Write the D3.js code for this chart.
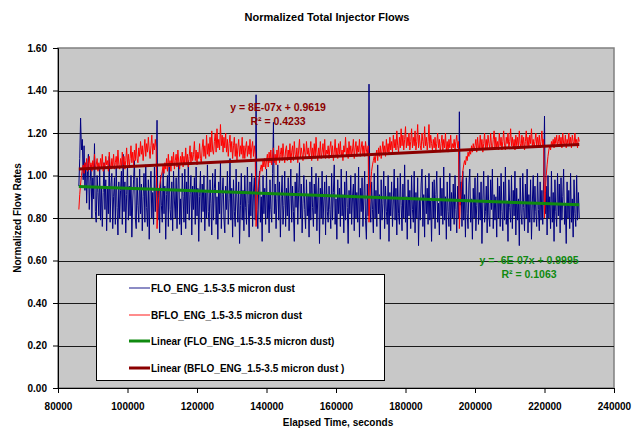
<!DOCTYPE html>
<html><head><meta charset="utf-8">
<script src="https://cdn.jsdelivr.net/npm/d3@7"></script>
<style>body{margin:0;background:#fff}svg{display:block;font-family:"Liberation Sans",Arial,sans-serif}</style>
</head><body><svg id="c" width="633" height="431"></svg>
<script>
const title = "Normalized Total Injector Flows";
const xTitle = "Elapsed Time, seconds";
const yTitle = "Normalized Flow Rates";
const xTicks = [80000,100000,120000,140000,160000,180000,200000,220000,240000];
const yTicks = [0,0.2,0.4,0.6,0.8,1.0,1.2,1.4,1.6];
const seriesNames = ["FLO_ENG_1.5-3.5 micron dust","BFLO_ENG_1.5-3.5 micron dust","Linear (FLO_ENG_1.5-3.5 micron dust)","Linear (BFLO_ENG_1.5-3.5 micron dust )"];
const tStart = 86000, tStep = 250;
const flo = [
0.95,1.08,1.27,1.12,1.17,0.98,1.14,0.93,1.06,0.87,1.02,1.10,0.84,0.97,1.05,0.80,0.99,0.89,1.15,0.83,0.78,1.00,0.92,0.81,
1.03,0.79,0.95,0.76,0.92,1.06,0.84,0.98,0.74,0.94,0.82,1.09,0.78,0.96,1.01,0.75,0.90,0.99,0.77,1.04,0.85,0.72,0.97,0.80,
0.93,1.02,0.77,1.10,0.83,0.97,0.73,0.91,1.04,0.79,0.95,0.81,1.00,0.71,0.88,0.98,1.07,0.80,0.75,0.99,0.86,0.78,1.03,0.82,
0.96,0.74,0.90,1.01,0.78,1.05,0.85,0.76,0.98,0.70,0.93,1.02,0.80,0.92,0.77,1.04,0.83,0.96,1.26,0.79,0.94,0.73,1.00,0.86,
0.78,1.03,0.82,0.95,0.70,0.91,1.00,0.76,1.06,0.84,0.79,0.97,0.74,1.02,0.88,0.80,0.99,0.75,0.93,1.05,0.77,0.89,0.72,1.01,
0.90,0.78,1.03,0.75,0.97,0.82,1.07,0.79,0.91,1.00,0.72,0.95,0.84,0.99,0.77,1.04,0.81,0.94,0.69,0.90,1.02,0.78,0.96,0.83,
1.00,0.74,0.92,0.80,1.05,0.83,0.76,0.98,0.87,0.72,1.01,0.79,0.94,1.03,0.77,0.90,0.70,0.97,0.82,1.06,0.75,0.91,0.99,0.80,
0.73,0.95,0.84,1.02,0.77,0.89,1.08,0.79,0.94,0.71,0.98,0.83,0.76,1.03,0.88,0.78,0.97,0.68,0.86,1.01,0.79,0.93,0.74,1.00,
0.85,0.77,1.04,0.87,0.71,0.97,0.81,1.01,0.76,0.92,0.99,0.79,1.38,0.84,0.75,0.95,1.02,0.78,0.90,0.69,1.00,0.82,0.94,0.77,
1.03,0.80,0.91,0.73,0.98,0.84,0.78,1.01,1.25,0.82,0.96,0.75,0.89,1.05,0.79,0.97,0.71,0.90,1.00,0.77,0.86,1.02,0.76,0.94,
0.81,0.99,0.74,0.89,1.03,0.78,0.95,0.83,0.69,0.97,0.85,1.01,0.77,0.92,1.06,0.80,0.96,0.73,0.87,1.00,0.84,0.75,0.98,0.81,
0.91,0.71,0.97,0.79,1.04,0.85,0.76,0.96,0.82,1.01,0.74,0.90,0.99,0.68,0.94,0.80,1.02,0.77,0.88,0.97,0.72,1.00,0.83,0.78,
0.95,0.84,0.75,1.01,0.79,0.92,1.05,0.77,0.89,0.70,0.98,0.82,0.94,0.76,1.03,0.81,0.91,0.73,0.97,0.79,1.02,0.85,0.68,0.93,
0.82,1.00,0.77,0.90,0.96,0.74,1.01,0.80,0.92,0.78,1.04,0.71,0.94,0.83,0.99,0.76,0.89,1.02,0.79,0.70,0.96,0.81,1.43,0.88,
0.78,0.97,0.84,0.73,1.01,0.80,0.93,0.76,1.05,0.82,0.91,0.70,0.98,0.79,0.87,1.02,0.75,0.95,0.83,0.77,1.00,0.69,0.92,0.81,
0.97,0.76,0.88,1.03,0.79,0.94,0.72,0.99,0.82,0.77,1.01,0.86,0.74,0.96,0.80,1.05,0.78,0.90,0.70,0.98,0.81,0.93,0.75,1.00,
0.84,0.78,1.02,0.73,0.92,0.80,0.99,0.67,0.89,0.79,0.96,1.03,0.76,0.91,0.71,1.00,0.82,0.94,0.77,1.01,0.79,0.88,0.69,0.97,
0.80,0.98,0.75,0.91,1.02,0.78,0.87,0.72,0.99,0.81,0.94,0.77,1.04,0.79,0.90,0.70,0.97,0.83,0.76,1.01,0.74,0.92,0.80,0.96,
0.77,1.00,0.84,0.73,0.95,0.80,1.30,0.86,0.97,0.76,1.02,0.79,0.91,0.71,0.99,0.82,0.75,0.96,1.03,0.78,0.89,0.70,0.94,0.80,
0.99,0.74,0.86,1.01,0.77,0.92,0.79,0.97,0.68,0.88,1.02,0.78,0.83,0.95,0.73,1.00,0.81,0.76,0.98,0.84,1.03,0.75,0.91,0.79,
0.90,0.71,0.99,0.80,0.95,0.76,1.01,0.83,0.74,0.97,0.79,1.04,0.77,0.88,0.69,0.98,0.85,0.78,1.00,0.75,0.93,0.81,1.02,0.72,
0.94,0.79,0.89,0.67,0.99,0.82,0.77,1.01,0.85,0.74,0.96,0.80,1.03,0.73,0.91,0.78,0.98,0.70,0.87,1.00,0.78,0.95,0.83,0.76,
1.01,0.84,0.74,0.97,0.79,0.93,0.77,0.99,1.28,0.82,0.95,0.72,1.00,0.80,0.90,0.75,1.02,0.78,0.92,0.69,0.98,0.83,0.76,1.01,
0.81,0.96,0.73,0.99,0.79,0.90,1.03,0.77,0.86,0.68,0.97,0.80,0.93,0.75,1.01,0.78,0.89,0.71,0.98,0.82,0.76,1.00,0.79,0.92,
0.80];
const bflo = [
0.84,0.91,0.96,1.00,1.03,1.05,1.01,1.06,1.03,1.08,1.02,1.05,1.09,1.03,1.06,1.02,1.07,1.04,1.10,1.03,1.05,1.08,1.02,1.06,
1.03,1.08,1.04,1.10,1.02,1.06,1.03,1.09,1.05,1.07,1.02,1.11,1.05,1.03,1.08,1.04,1.10,1.03,1.06,1.09,1.04,1.12,1.05,1.03,
1.08,1.04,1.11,1.05,1.09,1.03,1.07,1.13,1.05,1.10,1.04,1.08,1.14,1.06,1.11,1.05,1.12,1.07,1.15,1.08,1.06,1.13,1.09,1.16,
1.10,1.14,1.07,1.12,1.17,1.09,1.15,1.11,1.18,1.12,1.08,1.14,1.19,1.10,1.15,1.12,1.17,1.13,0.75,0.84,0.90,0.95,0.98,1.00,
1.02,1.05,1.01,1.06,1.03,1.08,1.02,1.10,1.04,1.07,1.02,1.09,1.05,1.11,1.03,1.07,1.10,1.04,1.12,1.06,1.03,1.09,1.05,1.11,
1.04,1.09,1.05,1.13,1.06,1.10,1.04,1.09,1.14,1.05,1.11,1.07,1.10,1.16,1.07,1.12,1.05,1.11,1.08,1.15,1.08,1.06,1.13,1.17,
1.09,1.14,1.08,1.19,1.10,1.15,1.09,1.18,1.11,1.21,1.12,1.10,1.16,1.20,1.11,1.22,1.13,1.17,1.12,1.24,1.14,1.19,1.11,1.18,
1.13,1.20,1.11,1.17,1.09,1.15,1.19,1.11,1.16,1.08,1.14,1.18,1.09,1.15,1.07,1.13,1.17,1.09,1.14,1.10,1.18,1.08,1.14,1.08,
1.13,1.16,1.09,1.14,1.10,1.17,1.08,1.13,1.16,1.09,1.14,1.10,0.76,0.86,0.93,0.97,1.00,1.03,1.05,1.02,1.07,1.04,1.08,1.03,
1.07,1.10,1.04,1.11,1.06,1.12,1.05,1.09,1.13,1.06,1.10,1.05,1.12,1.08,1.14,1.06,1.10,1.13,1.07,1.15,1.09,1.06,1.12,1.14,
1.07,1.12,1.08,1.15,1.06,1.11,1.14,1.07,1.16,1.10,1.08,1.13,1.06,1.12,1.17,1.08,1.13,1.10,1.07,1.15,1.11,1.08,1.16,1.10,
1.13,1.08,1.11,1.16,1.07,1.13,1.09,1.15,1.08,1.18,1.11,1.07,1.13,1.09,1.16,1.08,1.11,1.15,1.09,1.17,1.08,1.12,1.10,1.14,
1.08,1.13,1.16,1.09,1.14,1.07,1.11,1.17,1.09,1.13,1.08,1.15,1.10,1.16,1.09,1.12,1.07,1.14,1.11,1.18,1.09,1.13,1.08,1.16,
1.10,1.14,1.09,1.12,1.17,1.08,1.13,1.16,1.09,1.14,1.11,1.17,1.09,1.13,1.16,1.10,1.14,1.09,1.16,1.12,1.10,1.14,0.78,0.90,
0.97,1.02,1.05,1.07,1.09,1.06,1.10,1.12,1.07,1.13,1.09,1.14,1.08,1.12,1.16,1.10,1.14,1.09,1.17,1.11,1.15,1.10,1.18,1.12,
1.16,1.11,1.19,1.13,1.17,1.12,1.21,1.14,1.11,1.18,1.13,1.22,1.14,1.19,1.12,1.17,1.23,1.13,1.18,1.14,1.20,1.12,1.16,1.22,
1.13,1.18,1.14,1.21,1.12,1.16,1.24,1.13,1.19,1.14,1.12,1.20,1.16,1.13,1.23,1.14,1.18,1.12,1.16,1.24,1.13,1.19,1.15,1.12,
1.17,1.13,1.18,1.12,1.15,1.20,1.13,1.17,1.11,1.15,1.19,1.12,1.17,1.13,1.20,1.12,1.16,1.11,1.17,1.13,1.19,1.12,1.15,1.13,
1.17,1.12,1.16,1.19,1.13,1.16,0.75,0.86,0.93,0.98,1.02,1.05,1.07,1.05,1.09,1.07,1.11,1.09,1.12,1.10,1.14,1.11,1.15,1.12,
1.14,1.17,1.11,1.18,1.13,1.12,1.19,1.13,1.17,1.11,1.15,1.20,1.13,1.17,1.12,1.19,1.15,1.13,1.20,1.14,1.12,1.17,1.21,1.13,
1.18,1.13,1.16,1.12,1.20,1.14,1.18,1.12,1.16,1.21,1.14,1.12,1.18,1.15,1.20,1.13,1.16,1.22,1.14,1.18,1.13,1.17,1.12,1.19,
1.14,1.18,1.13,1.21,1.15,1.13,1.19,1.14,1.18,1.12,1.16,1.21,1.14,1.18,1.13,1.19,1.15,1.22,1.14,1.17,1.13,1.16,1.20,1.14,
1.18,1.14,1.19,1.13,1.16,1.21,1.14,1.17,0.80,0.92,1.00,1.05,1.09,1.12,1.14,1.12,1.16,1.14,1.17,1.13,1.18,1.15,1.19,1.14,
1.16,1.19,1.14,1.18,1.13,1.20,1.15,1.14,1.19,1.13,1.17,1.15,1.20,1.14,1.18,1.13,1.19,1.16,1.14,1.20,1.15,1.17,1.13,1.18,
1.16];
const trendFloEnds = [[86000,0.948],[230000,0.862]];
const trendBfloEnds = [[86000,1.031],[230000,1.146]];
const eqBflo = ["y = 8E-07x  + 0.9619","R\u00B2 = 0.4233"];
const eqFlo = ["y = -6E-07x  + 0.9995","R\u00B2 = 0.1063"];

const colBlue="#000080", colRed="#ff0000", colGreen="#108a10", colDark="#8b0000";
const svg=d3.select("#c");
const L=58,R=614,T=48,B=388;
const x=d3.scaleLinear().domain([80000,240000]).range([L,R]);
const y=d3.scaleLinear().domain([0,1.6]).range([B,T]);

svg.append("rect").attr("x",L).attr("y",T).attr("width",R-L).attr("height",B-T).attr("fill","#c8c8c8").attr("stroke","#808080").attr("stroke-width",1.5);
svg.append("g").selectAll("line").data(yTicks.slice(1,-1)).join("line")
 .attr("x1",L).attr("x2",R).attr("y1",d=>Math.round(y(d))+0.5).attr("y2",d=>Math.round(y(d))+0.5).attr("stroke","#1a1a1a").attr("stroke-width",1);

const fmtY=d3.format(".2f");
const ya=svg.append("g").attr("transform",`translate(${L},0)`).call(d3.axisLeft(y).tickValues(yTicks).tickFormat(fmtY).tickSize(5).tickPadding(6));
const xa=svg.append("g").attr("transform",`translate(0,${B})`).call(d3.axisBottom(x).tickValues(xTicks).tickFormat(d3.format("d")).tickSize(5).tickPadding(6));
[ya,xa].forEach(a=>{a.selectAll("text").attr("font-size",10).attr("font-weight","bold").attr("fill","#000").attr("font-family","Liberation Sans, Arial");a.select(".domain").attr("stroke","#000");a.selectAll(".tick line").attr("stroke","#000");});
xa.selectAll("text").attr("dy","1.1em");

const pts=arr=>arr.map((v,i)=>[tStart+i*tStep,v]);
const line=d3.line().x(d=>x(d[0])).y(d=>y(d[1]));
const g=svg.append("g");
g.append("path").attr("d",line(pts(flo))).attr("fill","none").attr("stroke",colBlue).attr("stroke-width",1);
g.append("path").attr("d",line(pts(bflo))).attr("fill","none").attr("stroke",colRed).attr("stroke-width",1);
g.append("path").attr("d",line(trendFloEnds)).attr("stroke",colGreen).attr("stroke-width",3);
g.append("path").attr("d",line(trendBfloEnds)).attr("stroke",colDark).attr("stroke-width",3);

const txt=(s,xx,yy,opt={})=>svg.append("text").attr("x",xx).attr("y",yy).text(s).attr("font-size",opt.size||10).attr("font-weight","bold").attr("fill",opt.fill||"#000").attr("text-anchor",opt.anchor||"middle");
txt(title,327,21,{size:11});
txt(xTitle,338,426,{size:10});
svg.append("text").attr("transform","translate(21,218) rotate(-90)").attr("text-anchor","middle").attr("font-size",10).attr("font-weight","bold").text(yTitle);
txt(eqBflo[0],278,111,{fill:colDark,size:10.5});
txt(eqBflo[1],278,125,{fill:colDark,size:10.5});
txt(eqFlo[0],529,264,{fill:colGreen,size:10.5});
txt(eqFlo[1],529,278,{fill:colGreen,size:10.5});

const lg=svg.append("g");
lg.append("rect").attr("x",96.5).attr("y",274.5).attr("width",288).attr("height",106).attr("fill","#fff").attr("stroke","#000");
const lcols=[colBlue,colRed,colGreen,colDark], lw=[1.5,1.5,3,3], ly=[288,315,341,368];
seriesNames.forEach((n,i)=>{
 lg.append("line").attr("x1",129).attr("x2",150).attr("y1",ly[i]).attr("y2",ly[i]).attr("stroke",lcols[i]).attr("stroke-width",lw[i]).attr("opacity",i<2?0.6:1);
 txt(n,151,ly[i]+4,{anchor:"start",size:10});
});
</script></body></html>
